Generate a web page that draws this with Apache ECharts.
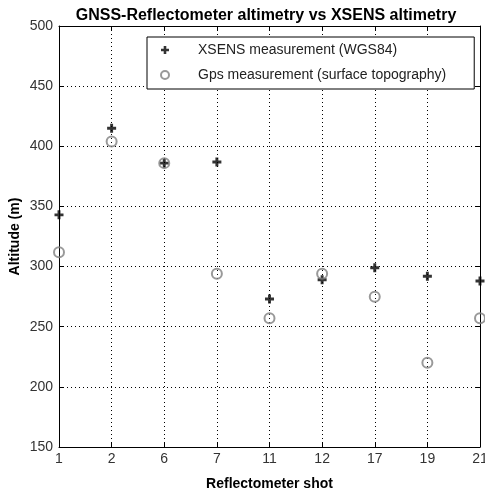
<!DOCTYPE html>
<html><head><meta charset="utf-8">
<script src="https://cdn.jsdelivr.net/npm/echarts@6/dist/echarts.min.js"></script>
<style>html,body{margin:0;padding:0;background:#fff}#c{width:485px;height:494px}</style>
</head><body><div id="c"></div>
<script>
const categories = ['1','2','6','7','11','12','17','19','21'];
const xsensValues = [343, 415, 386, 387, 273, 289, 299, 292, 288];
const gpsValues = [312, 404, 386, 294, 257, 294, 275, 220, 257];
const yMin = 150, yMax = 500, yStep = 50;

const plusPath = 'path://M-1.3,-4 L1.3,-4 L1.3,-1.3 L4,-1.3 L4,1.3 L1.3,1.3 L1.3,4 L-1.3,4 L-1.3,1.3 L-4,1.3 L-4,-1.3 L-1.3,-1.3 Z';
const font = 'Liberation Sans, Arial, sans-serif';
const chart = echarts.init(document.getElementById('c'), null, {renderer: 'canvas'});
chart.setOption({
  animation: false,
  backgroundColor: '#fff',
  title: {
    text: 'GNSS-Reflectometer altimetry vs XSENS altimetry',
    left: 261, top: 3, textAlign: 'center',
    textStyle: {fontFamily: font, fontSize: 16, fontWeight: 'bold', color: '#000'}
  },
  legend: {
    orient: 'vertical', left: 147, top: 37,
    backgroundColor: '#fff', borderColor: '#000', borderWidth: 1,
    padding: [6, 28, 7, 13], itemWidth: 26, itemHeight: 8, itemGap: 11,
    textStyle: {fontFamily: font, fontSize: 14, color: '#222', padding: [0, 0, 0, 15]},
    data: ['XSENS measurement (WGS84)', 'Gps measurement (surface topography)']
  },
  grid: {left: 59, right: 5, top: 26, bottom: 47, outerBoundsMode: 'none', containLabel: false},
  xAxis: [{
    type: 'category', data: categories, boundaryGap: false,
    name: 'Reflectometer shot', nameLocation: 'middle', nameGap: 30, nameMoveOverlap: false,
    nameTextStyle: {fontFamily: font, fontSize: 14, fontWeight: 'bold', color: '#000'},
    axisLine: {lineStyle: {color: '#000', width: 1}},
    axisTick: {inside: true, length: 5, lineStyle: {color: '#000'}},
    axisLabel: {fontFamily: font, fontSize: 14, color: '#333', margin: 5},
    splitLine: {show: true, lineStyle: {color: '#000', type: [1, 3], width: 1}}
  }, {
    type: 'category', data: categories, boundaryGap: false, position: 'top',
    axisLine: {lineStyle: {color: '#000', width: 1}},
    axisTick: {inside: true, length: 5, lineStyle: {color: '#000'}},
    axisLabel: {show: false}, splitLine: {show: false}
  }],
  yAxis: [{
    type: 'value', min: yMin, max: yMax, interval: yStep,
    name: 'Altitude (m)', nameLocation: 'middle', nameGap: 37, nameMoveOverlap: false,
    nameTextStyle: {fontFamily: font, fontSize: 14, fontWeight: 'bold', color: '#000'},
    axisLine: {show: true, lineStyle: {color: '#000', width: 1}},
    axisTick: {show: true, inside: true, length: 5, lineStyle: {color: '#000'}},
    axisLabel: {fontFamily: font, fontSize: 14, color: '#333', margin: 6},
    splitLine: {show: true, lineStyle: {color: '#000', type: [1, 3], width: 1}}
  }, {
    type: 'value', min: yMin, max: yMax, interval: yStep, position: 'right',
    axisLine: {show: true, lineStyle: {color: '#000', width: 1}},
    axisTick: {show: true, inside: true, length: 5, lineStyle: {color: '#000'}},
    axisLabel: {show: false}, splitLine: {show: false}
  }],
  series: [{
    name: 'XSENS measurement (WGS84)', type: 'scatter', data: xsensValues,
    symbol: plusPath, symbolSize: 9,
    itemStyle: {color: '#000'}, z: 3
  }, {
    name: 'Gps measurement (surface topography)', type: 'scatter', data: gpsValues,
    symbol: 'circle', symbolSize: 10,
    itemStyle: {color: 'rgba(0,0,0,0)', borderColor: '#808080', borderWidth: 2}, z: 4
  }]
});
</script></body></html>
